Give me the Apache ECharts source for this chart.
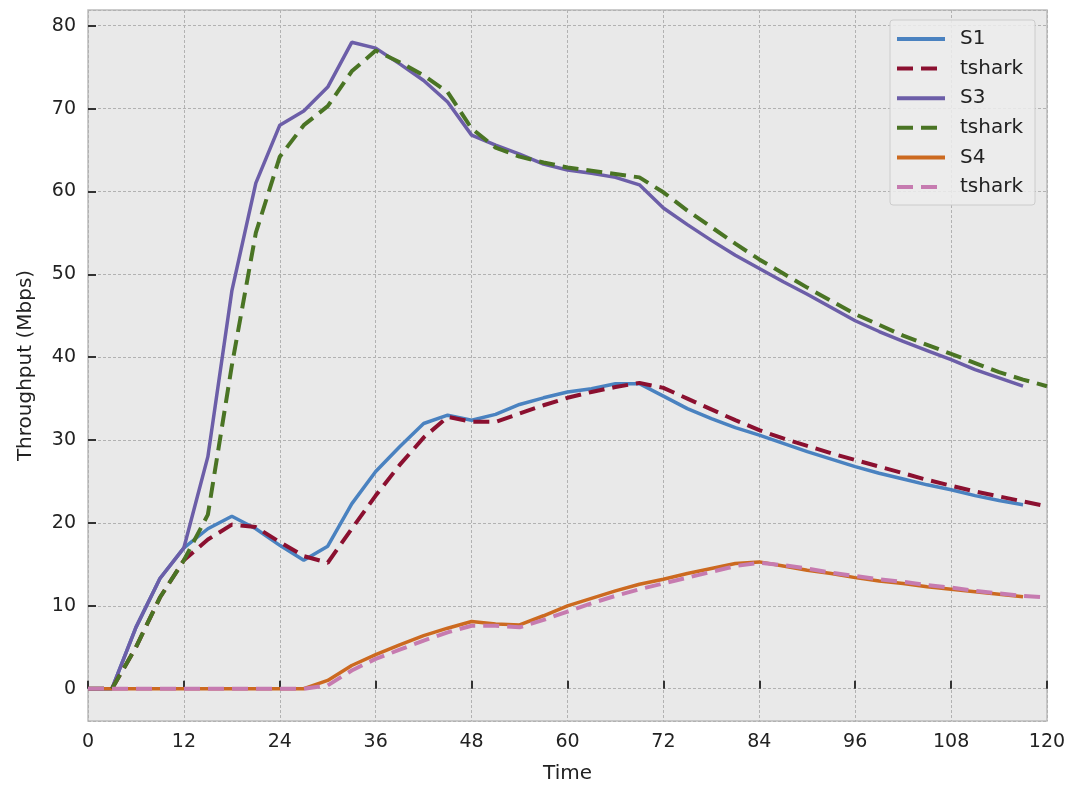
<!DOCTYPE html>
<html>
<head>
<meta charset="utf-8">
<script src="https://cdn.jsdelivr.net/npm/echarts@6/dist/echarts.min.js"></script>
<style>
html,body{margin:0;padding:0;background:#ffffff;}
#chart{width:1076px;height:789px;}
</style>
</head>
<body>
<div id="chart"></div>
<script>
// Time stamps (solid series end at 117, tshark series at 120)
const TIME_S = [0,3,6,9,12,15,18,21,24,27,30,33,36,39,42,45,48,51,54,57,60,63,66,69,72,75,78,81,84,87,90,93,96,99,102,105,108,111,114,117];
const TIME_T = [0,3,6,9,12,15,18,21,24,27,30,33,36,39,42,45,48,51,54,57,60,63,66,69,72,75,78,81,84,87,90,93,96,99,102,105,108,111,114,117,120];

const S1 = [0,0,7.4,13.3,17,19.3,20.8,19.3,17.3,15.5,17.2,22.3,26.2,29.2,32,33,32.4,33.1,34.3,35.1,35.8,36.2,36.8,36.8,35.3,33.8,32.6,31.5,30.6,29.6,28.6,27.7,26.8,26,25.3,24.6,24,23.3,22.7,22.2];
const S1_TSHARK = [0,0,5,11,15.5,18,19.8,19.5,17.7,16,15.2,19.3,23.3,27,30.3,32.8,32.2,32.2,33.2,34.2,35.1,35.8,36.4,36.9,36.3,35,33.7,32.4,31.2,30.2,29.3,28.4,27.6,26.8,26,25.2,24.5,23.8,23.2,22.6,22];
const S3 = [0,0,7.4,13.3,17,28,48,61,68,69.7,72.6,78,77.3,75.4,73.4,70.8,66.8,65.6,64.5,63.3,62.6,62.2,61.7,60.8,58,56,54.1,52.3,50.7,49.1,47.6,46,44.4,43.1,41.9,40.8,39.7,38.5,37.5,36.5];
const S3_TSHARK = [0,0,5,11,15.5,21,39,55,64.2,68,70.3,74.5,77,75.6,74,72,67.6,65.3,64.2,63.5,62.9,62.5,62.1,61.7,59.9,57.7,55.7,53.7,51.8,50.1,48.4,46.8,45.2,43.9,42.6,41.5,40.4,39.3,38.2,37.3,36.5];
const S4 = [0,0,0,0,0,0,0,0,0,0,1,2.8,4.1,5.3,6.4,7.3,8.1,7.8,7.7,8.8,10,10.9,11.8,12.6,13.2,13.9,14.5,15.1,15.3,14.8,14.3,13.9,13.4,13,12.7,12.3,12,11.7,11.4,11.1];
const S4_TSHARK = [0,0,0,0,0,0,0,0,0,0,0.4,2.2,3.6,4.7,5.8,6.8,7.6,7.6,7.4,8.3,9.3,10.3,11.2,12,12.7,13.4,14.1,14.8,15.2,14.9,14.5,14,13.6,13.2,12.9,12.5,12.2,11.8,11.5,11.2,11];

// Legend labels (three series are all called "tshark"; trailing spaces keep them distinct, trimmed on display)
const SERIES_NAMES = ['S1','tshark','S3','tshark ','S4','tshark  '];

function pairs(t, v){ return v.map((y,i)=>[t[i], y]); }

const FONT = 'DejaVu Sans';
const solid = (name, color, t, v) => ({
  name, type:'line', data: pairs(t, v), symbol:'none', smooth:false,
  lineStyle:{color, width:3.5, type:'solid'}, itemStyle:{color}, z:2
});
const dashed = (name, color, t, v) => ({
  name, type:'line', data: pairs(t, v), symbol:'none', smooth:false,
  lineStyle:{color, width:4, type:[16,8]}, itemStyle:{color}, z:3
});

const chart = echarts.init(document.getElementById('chart'), null, {renderer:'canvas'});
chart.setOption({
  animation:false,
  backgroundColor:'#ffffff',
  textStyle:{fontFamily:FONT},
  grid:{left:88, right:29, top:10, bottom:67, show:true, backgroundColor:'#e9e9e9', borderColor:'#bcbcbc', borderWidth:1.5},
  legend:{
    data:SERIES_NAMES,
    orient:'vertical', right:41, top:20,
    itemWidth:48, itemHeight:14, itemGap:9.6,
    itemStyle:{opacity:0},
    lineStyle:{width:4},
    backgroundColor:'rgba(236,236,236,0.85)', borderColor:'#cccccc', borderWidth:1, borderRadius:3,
    padding:[9,12,8,5],
    formatter: n => n.trim(),
    textStyle:{fontFamily:FONT, fontSize:20, color:'#222', padding:[0,0,0,10]}
  },
  xAxis:{
    type:'value', min:0, max:120, interval:12,
    name:'Time', nameLocation:'middle', nameGap:43,
    nameTextStyle:{fontFamily:FONT, fontSize:20, color:'#222'},
    axisLine:{show:false},
    axisTick:{show:true, inside:true, length:8, lineStyle:{color:'#333', width:2}},
    axisLabel:{fontFamily:FONT, fontSize:19, color:'#222', margin:12},
    splitLine:{show:true, lineStyle:{color:'#b2b2b2', width:1, type:[3,2]}}
  },
  yAxis:{
    type:'value', min:-3.9, max:81.9, splitNumber:8,
    name:'Throughput (Mbps)', nameLocation:'middle', nameGap:52,
    nameTextStyle:{fontFamily:FONT, fontSize:20, color:'#222'},
    axisLine:{show:false},
    axisTick:{show:true, inside:true, length:8, lineStyle:{color:'#333', width:2}},
    axisLabel:{fontFamily:FONT, fontSize:19, color:'#222', margin:12, showMinLabel:false, showMaxLabel:false,
      formatter: v => (Math.abs(v - Math.round(v/10)*10) < 1e-6 ? String(Math.round(v)) : '')},
    splitLine:{show:true, lineStyle:{color:'#b2b2b2', width:1, type:[3,2]}}
  },
  series:[
    solid(SERIES_NAMES[0], '#4a82c0', TIME_S, S1),
    dashed(SERIES_NAMES[1], '#8b1030', TIME_T, S1_TSHARK),
    solid(SERIES_NAMES[2], '#6c5ea8', TIME_S, S3),
    dashed(SERIES_NAMES[3], '#4a7424', TIME_T, S3_TSHARK),
    solid(SERIES_NAMES[4], '#cc6a20', TIME_S, S4),
    dashed(SERIES_NAMES[5], '#c67bb0', TIME_T, S4_TSHARK)
  ]
});
</script>
</body>
</html>
